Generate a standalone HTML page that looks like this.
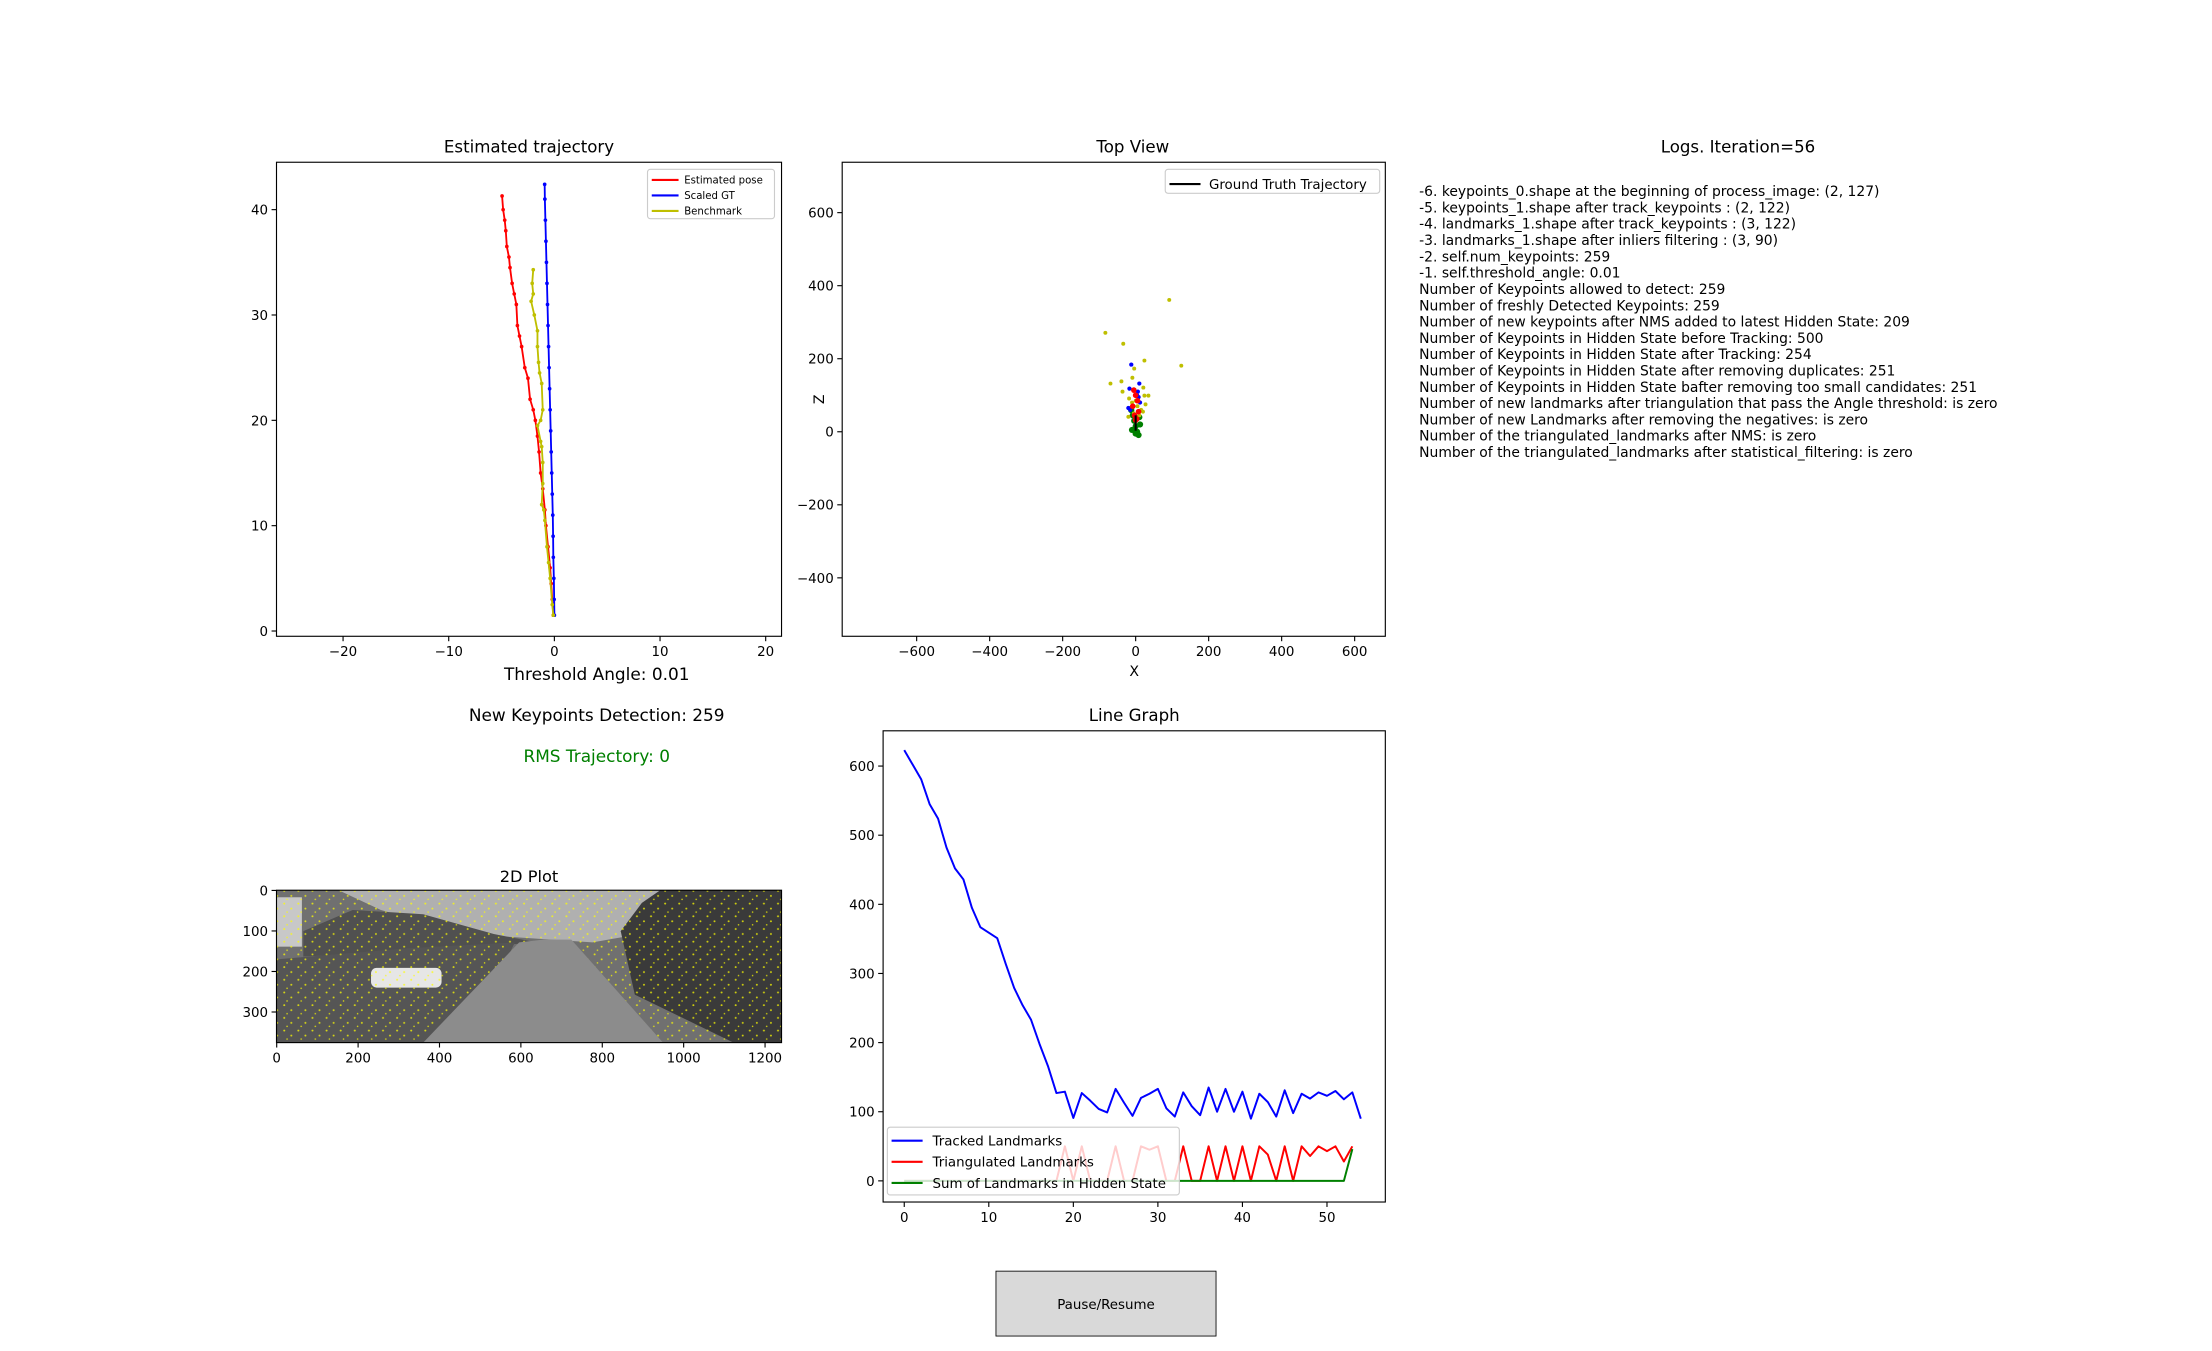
<!DOCTYPE html>
<html><head><meta charset="utf-8">
<style>
html,body{margin:0;padding:0;background:#fff;}
svg{display:block;font-family:"DejaVu Sans","Liberation Sans",sans-serif;}
</style></head>
<body>
<svg id="fig" width="2212" height="1351" viewBox="0 0 1568 957.6" preserveAspectRatio="none" xmlns="http://www.w3.org/2000/svg">
<defs>
<pattern id="kp" width="10" height="9" patternUnits="userSpaceOnUse">
<circle cx="1.5" cy="1.5" r="0.7" fill="#ffff00"/><circle cx="6.5" cy="5" r="0.7" fill="#ffff00"/><circle cx="3.5" cy="7.5" r="0.55" fill="#ffff00"/>
</pattern>
<clipPath id="c1"><rect x="196" y="115" width="358" height="336"/></clipPath>
<clipPath id="c2"><rect x="597" y="115" width="385" height="336"/></clipPath>
<clipPath id="c3"><rect x="626" y="518" width="356" height="334"/></clipPath>
<clipPath id="ci"><rect x="196" y="631" width="358" height="108"/></clipPath>
</defs>
<g id="g1"></g>
<g id="g2"></g>
<g id="g3"></g>
<g id="g4">
 <text x="375" y="625" font-size="11.5" text-anchor="middle">2D Plot</text>
 <g clip-path="url(#ci)">
 <rect x="196" y="631" width="358" height="108" fill="#707070"/>
 <polygon points="240,631 470,631 465,660 420,668 330,662 270,645" fill="#b0b0b0"/>
 <polygon points="215,660 250,645 300,648 350,662 380,668 330,672 260,676 215,678" fill="#505050"/>
 <polygon points="196,680 290,672 365,668 330,739 196,739" fill="#555"/>
 <polygon points="468,631 554,631 554,739 520,739 450,705 440,660 455,640" fill="#3a3a3a"/>
 <rect x="196" y="636" width="18" height="35" fill="#c8c8c8"/>
 <rect x="263" y="686" width="50" height="14" rx="4" fill="#e6e6e6"/>
 <rect x="196" y="631" width="358" height="108" fill="url(#kp)" opacity="0.75"/>
 <polygon points="368,668 385,666 405,666 470,739 300,739" fill="#8c8c8c"/>
 </g>
 <rect x="196" y="631" width="358" height="108" fill="none" stroke="#000" stroke-width="0.8"/>
</g>
<text x="423" y="482" font-size="12" text-anchor="middle">Threshold Angle: 0.01</text>
<text x="423" y="511" font-size="12" text-anchor="middle">New Keypoints Detection: 259</text>
<text x="423" y="540" font-size="12" text-anchor="middle" fill="#008000">RMS Trajectory: 0</text>
<g id="logs">
 <text x="1232" y="108" font-size="11.8" text-anchor="middle">Logs. Iteration=56</text>
</g>
<g>
 <rect x="706" y="901" width="156" height="46" fill="#d9d9d9" stroke="#000" stroke-width="0.6"/>
 <text x="784" y="928" font-size="9.5" text-anchor="middle">Pause/Resume</text>
</g>
</svg>
<script>
const NS="http://www.w3.org/2000/svg";
// ---- Estimated trajectory data ----
const estX=[-0.1,-0.2,-0.3,-0.4,-0.6,-0.8,-0.9,-1.1,-1.3,-1.45,-1.6,-1.8,-2.0,-2.3,-2.5,-2.8,-3.1,-3.3,-3.5,-3.6,-3.8,-4.0,-4.2,-4.3,-4.5,-4.6,-4.7,-4.85,-4.95];
const estY=[1.5,3,4.5,6,8,10,11.5,13.5,15,17,18.5,20,21,22,24,25,27,28,29,31,32,33,34.5,35.5,36.5,38,39,40,41.3];
const gtX=[0,-0.02,-0.05,-0.1,-0.12,-0.15,-0.2,-0.25,-0.3,-0.35,-0.4,-0.45,-0.5,-0.55,-0.6,-0.65,-0.7,-0.75,-0.8,-0.85,-0.9,-0.92];
const gtY=[1.5,3,5,7,9,11,13,15,17,19,21,23,25,27,29,31,33,35,37,39,41,42.4];
const bmX=[-0.1,-0.2,-0.4,-0.55,-0.7,-0.9,-1.0,-1.2,-1.1,-1.1,-1.2,-1.3,-1.6,-1.3,-1.1,-1.2,-1.4,-1.5,-1.6,-1.6,-1.9,-2.2,-2.0,-2.1,-2.0];
const bmY=[1.5,2.5,5,6.5,8,10.5,11.5,12,14,16,17.5,18,19.5,20,21,23.5,24.5,25.5,27,28.5,30,31.3,32,33,34.3];
const trajXTicks=[-20,-10,0,10,20];
const trajYTicks=[0,10,20,30,40];
// ---- Top view data ----
const tvYelX=[92,-83,-34,24,125,-4,-9,-69,-39,-36,21,24,35,-18,-10,5,15,27,-5,-15,10,0,20,-20,8];
const tvYelY=[361,271,241,195,181,173,148,132,138,110,121,99,99,91,80,70,60,75,50,65,45,85,55,41,95];
const tvBluX=[-12,10,-17,6,8,-20,-15,12,4];
const tvBluY=[184,132,118,110,95,65,60,80,100];
const tvRedX=[-5,0,5,-8,8,-3,3,0];
const tvRedY=[114,100,85,70,55,45,35,32];
const tvGrnX=[-12,-8,-4,0,4,8,12,-10,10,0];
const tvGrnY=[59,45,30,15,0,-9,20,5,40,-5];
const gtTrajX=[0,0];
const gtTrajY=[3,45];
const tvXTicks=[-600,-400,-200,0,200,400,600];
const tvYTicks=[-400,-200,0,200,400,600];
// ---- Line graph data ----
const tracked=[623,602,581,545,524,482,452,436,395,367,359,351,314,279,254,233,198,166,127,129,91,127,116,104,99,133,113,94,120,126,133,105,93,128,108,95,135,100,133,100,129,90,126,114,93,131,98,126,119,128,123,130,118,128,90];
const triangulated=[0,0,0,0,0,0,0,0,0,0,0,0,0,0,0,0,0,0,0,50,0,50,0,0,0,50,0,0,50,45,50,0,0,50,0,0,50,0,50,0,50,0,50,38,0,50,0,50,36,50,43,50,28,50];
const hiddenSum=[0,0,0,0,0,0,0,0,0,0,0,0,0,0,0,0,0,0,0,0,0,0,0,0,0,0,0,0,0,0,0,0,0,0,0,0,0,0,0,0,0,0,0,0,0,0,0,0,0,0,0,0,0,46];
const lgXTicks=[0,10,20,30,40,50];
const lgYTicks=[0,100,200,300,400,500,600];
const logLines=["-6. keypoints_0.shape at the beginning of process_image: (2, 127)","-5. keypoints_1.shape after track_keypoints : (2, 122)","-4. landmarks_1.shape after track_keypoints : (3, 122)","-3. landmarks_1.shape after inliers filtering : (3, 90)","-2. self.num_keypoints: 259","-1. self.threshold_angle: 0.01","Number of Keypoints allowed to detect: 259","Number of freshly Detected Keypoints: 259","Number of new keypoints after NMS added to latest Hidden State: 209","Number of Keypoints in Hidden State before Tracking: 500","Number of Keypoints in Hidden State after Tracking: 254","Number of Keypoints in Hidden State after removing duplicates: 251","Number of Keypoints in Hidden State bafter removing too small candidates: 251","Number of new landmarks after triangulation that pass the Angle threshold: is zero","Number of new Landmarks after removing the negatives: is zero","Number of the triangulated_landmarks after NMS: is zero","Number of the triangulated_landmarks after statistical_filtering: is zero"];
const imgXTicks=[0,200,400,600,800,1000,1200];
const imgYTicks=[0,100,200,300];

function mk(p,tag,attrs,txt){const e=document.createElementNS(NS,tag);for(const k in attrs)e.setAttribute(k,attrs[k]);if(txt!==undefined)e.textContent=txt;p.appendChild(e);return e;}
function lin(d0,d1,r0,r1){return v=>r0+(v-d0)/(d1-d0)*(r1-r0);}
function axes(g,L,T,W,H,sx,sy,xt,yt,fs){
  const fr=mk(g,'rect',{x:L,y:T,width:W,height:H,fill:'none',stroke:'#000','stroke-width':0.8});
  
  
  xt.forEach(v=>{const x=sx(v);mk(g,'line',{x1:x,x2:x,y1:T+H,y2:T+H+3.5,stroke:'#000','stroke-width':0.8});
    const t=mk(g,'text',{x:x,y:T+H+14,'font-size':fs,'text-anchor':'middle'},String(v).replace('-','\u2212'));
    
    });
  yt.forEach(v=>{const y=sy(v);mk(g,'line',{x1:L-3.5,x2:L,y1:y,y2:y,stroke:'#000','stroke-width':0.8});
    const t=mk(g,'text',{x:L-6,y:y+3.5,'font-size':fs,'text-anchor':'end'},String(v).replace('-','\u2212'));
    
    });
}
function line(g,xs,ys,sx,sy,col,w,name,markers,clip){
  const pts=xs.map((x,i)=>sx(x)+','+sy(ys[i])).join(' ');
  const pl=mk(g,'polyline',{points:pts,fill:'none',stroke:col,'stroke-width':w,'stroke-linejoin':'round'});
  if(clip)pl.setAttribute('clip-path',clip);
  
  
  if(markers)xs.forEach((x,i)=>{const c=mk(g,'circle',{cx:sx(x),cy:sy(ys[i]),r:1.3,fill:col});
    
    });
}
function legend(g,x,y,w,h,items,fs,lx,tx,dy){
  const r=mk(g,'rect',{x:x,y:y,width:w,height:h,fill:'#fff','fill-opacity':0.8,stroke:'#ccc','stroke-width':0.8,rx:2});
  
  
  items.forEach((it,i)=>{const yy=y+dy*(i+0.5)+2;
    mk(g,'line',{x1:x+lx[0],x2:x+lx[1],y1:yy,y2:yy,stroke:it[1],'stroke-width':1.5});
    const t=mk(g,'text',{x:x+tx,y:yy+fs*0.36,'font-size':fs},it[0]);
    
    });
}
// Chart 1
(function(){const g=document.getElementById('g1');
 const sx=lin(-26.3,21.5,196,554), sy=lin(-0.5,44.5,451,115);
 mk(g,'text',{x:375,y:108,'font-size':11.8,'text-anchor':'middle'},'Estimated trajectory');
 axes(g,196,115,358,336,sx,sy,trajXTicks,trajYTicks,9.5);
 line(g,estX,estY,sx,sy,'#ff0000',1.3,'estimated-pose-line',true,'url(#c1)');
 line(g,gtX,gtY,sx,sy,'#0000ff',1.3,'scaled-gt-line',true,'url(#c1)');
 line(g,bmX,bmY,sx,sy,'#bfbf00',1.3,'benchmark-line',true,'url(#c1)');
 legend(g,459,120,90,35,[['Estimated pose','#ff0000'],['Scaled GT','#0000ff'],['Benchmark','#bfbf00']],7.2,[3,22],26,11);
})();
// Chart 2
(function(){const g=document.getElementById('g2');
 const sx=lin(-804,684,597,982), sy=lin(-560,738,451,115);
 mk(g,'text',{x:803,y:108,'font-size':11.8,'text-anchor':'middle'},'Top View');
 axes(g,597,115,385,336,sx,sy,tvXTicks,tvYTicks,9.5);
 mk(g,'text',{x:804,y:479,'font-size':10,'text-anchor':'middle'},'X');
 mk(g,'text',{x:584,y:283,'font-size':10,'text-anchor':'middle',transform:'rotate(-90 584 283)'},'Z');
 const sc=(xs,ys,col,name,r)=>xs.forEach((x,i)=>{const c=mk(g,'circle',{cx:sx(x),cy:sy(ys[i]),r:r,fill:col});
   
   });
 sc(tvGrnX,tvGrnY,'#008000','hidden-point',2.2);
 sc(tvYelX,tvYelY,'#bfbf00','benchmark-point',1.4);
 sc(tvBluX,tvBluY,'#0000ff','gt-point',1.5);
 sc(tvRedX,tvRedY,'#ff0000','estimated-point',2);
 line(g,gtTrajX,gtTrajY,sx,sy,'#000',1.5,'ground-truth-trajectory',false,'url(#c2)');
 legend(g,826,120,152,17,[['Ground Truth Trajectory','#000']],9.5,[3,25],31,17);
})();
// Chart 3
(function(){const g=document.getElementById('g3');
 const sx=lin(-2.5,56.9,626,982), sy=lin(-30.6,651,852,518);
 mk(g,'text',{x:804,y:511,'font-size':11.8,'text-anchor':'middle'},'Line Graph');
 axes(g,626,518,356,334,sx,sy,lgXTicks,lgYTicks,9.5);
 const idx=a=>a.map((_,i)=>i);
 line(g,idx(tracked),tracked,sx,sy,'#0000ff',1.4,'tracked-landmarks-line',false,'url(#c3)');
 line(g,idx(triangulated),triangulated,sx,sy,'#ff0000',1.4,'triangulated-landmarks-line',false,'url(#c3)');
 line(g,idx(hiddenSum),hiddenSum,sx,sy,'#008000',1.4,'hidden-state-sum-line',false,'url(#c3)');
 legend(g,629,799,207,48,[['Tracked Landmarks','#0000ff'],['Triangulated Landmarks','#ff0000'],['Sum of Landmarks in Hidden State','#008000']],9.5,[3,25],32,15);
})();
// 2D plot axes
(function(){const g=document.getElementById('g4');
 const sx=lin(-0.5,1240.5,196,554), sy=lin(-0.5,375.5,631,739);
 imgXTicks.forEach(v=>{const x=sx(v);mk(g,'line',{x1:x,x2:x,y1:739,y2:742.5,stroke:'#000','stroke-width':0.8});
  const t=mk(g,'text',{x:x,y:753,'font-size':9.5,'text-anchor':'middle'},String(v));
  
  });
 imgYTicks.forEach(v=>{const y=sy(v);mk(g,'line',{x1:192.5,x2:196,y1:y,y2:y,stroke:'#000','stroke-width':0.8});
  const t=mk(g,'text',{x:190,y:y+3.5,'font-size':9.5,'text-anchor':'end'},String(v));
  
  });
})();
// Logs
(function(){const g=document.getElementById('logs');
 logLines.forEach((s,i)=>{const t=mk(g,'text',{x:1006,y:139+i*11.56,'font-size':9.85},s);
  
  });
})();
</script>
</body></html>
